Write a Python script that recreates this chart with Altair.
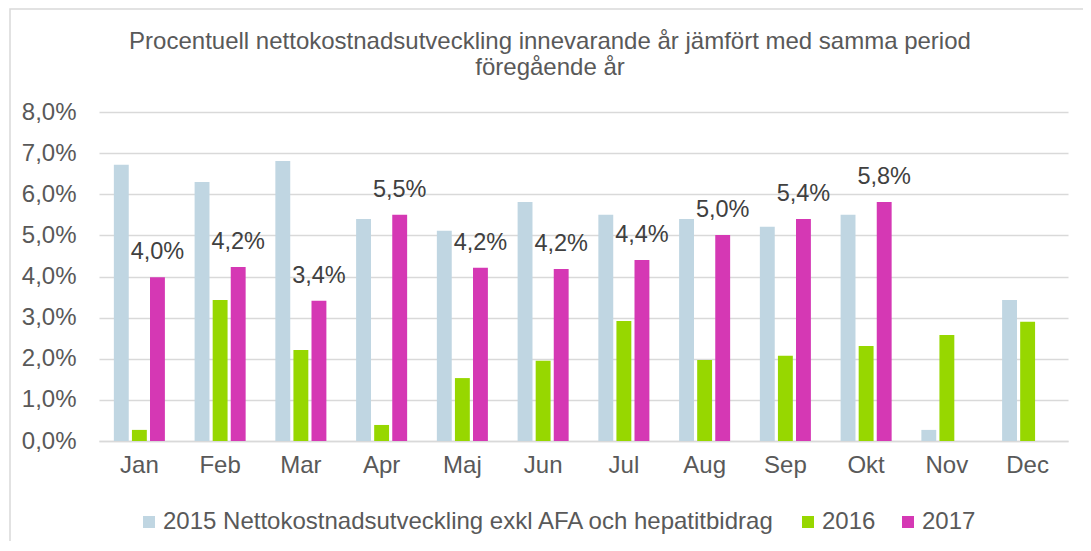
import altair as alt
import pandas as pd

months = ["Jan", "Feb", "Mar", "Apr", "Maj", "Jun", "Jul", "Aug", "Sep", "Okt", "Nov", "Dec"]
s2015 = [6.72, 6.30, 6.81, 5.40, 5.11, 5.81, 5.50, 5.40, 5.21, 5.50, 0.27, 3.43]
s2016 = [0.27, 3.43, 2.21, 0.39, 1.53, 1.95, 2.92, 1.97, 2.07, 2.31, 2.58, 2.90]
s2017 = [3.98, 4.23, 3.41, 5.50, 4.21, 4.18, 4.40, 5.01, 5.40, 5.81, None, None]
series_names = ["2015 Nettokostnadsutveckling exkl AFA och hepatitbidrag", "2016", "2017"]
colors = ["#C0D6E2", "#97D700", "#D538B4"]
y_ticks = [0, 1, 2, 3, 4, 5, 6, 7, 8]
title_lines = ["Procentuell nettokostnadsutveckling innevarande år jämfört med samma period",
               "föregående år"]

rows = []
for i, m in enumerate(months):
    for name, vals in zip(series_names, [s2015, s2016, s2017]):
        if vals[i] is not None:
            rows.append({"month": m, "series": name, "value": vals[i]})
df = pd.DataFrame(rows)

FONT = "Liberation Sans"
GRAY = "#595959"

x_enc = alt.X("month:N", sort=months, title=None,
              scale=alt.Scale(paddingInner=0.368, paddingOuter=0.184),
              axis=alt.Axis(labelFontSize=24, labelColor=GRAY, labelFont=FONT,
                            ticks=False, domainColor="#D9D9D9", domainWidth=1.5,
                            labelPadding=12, labelAngle=0, grid=False))
xoff_enc = alt.XOffset("series:N", sort=series_names,
                       scale=alt.Scale(paddingInner=0.176, paddingOuter=0))
y_enc = alt.Y("value:Q", title=None,
              scale=alt.Scale(domain=[0, 8], nice=False),
              axis=alt.Axis(values=y_ticks, labelFontSize=24, labelColor=GRAY, labelFont=FONT,
                            labelExpr="replace(format(datum.value, '.1f'), '.', ',') + '%'",
                            ticks=False, domain=False, gridColor="#D9D9D9", gridWidth=1.5,
                            labelPadding=23))

bars = alt.Chart(df).mark_bar().encode(
    x=x_enc,
    xOffset=xoff_enc,
    y=y_enc,
    color=alt.Color("series:N", sort=series_names,
                    scale=alt.Scale(domain=series_names, range=colors),
                    legend=alt.Legend(title=None, orient="none", direction="horizontal",
                                      legendX=38, legendY=398, labelLimit=1000, padding=0,
                                      labelFontSize=24, labelColor=GRAY, labelFont=FONT,
                                      symbolType="square", symbolSize=144, symbolStrokeWidth=0,
                                      labelOffset=2, columnPadding=20)),
)

labels = alt.Chart(df).transform_filter(
    alt.datum.series == "2017"
).transform_calculate(
    lab="replace(format(datum.value, '.1f'), '.', ',') + '%'"
).mark_text(baseline="bottom", dy=-13, fontSize=23.5, font=FONT, color="#404040").encode(
    x=alt.X("month:N", sort=months),
    xOffset=alt.XOffset("series:N", sort=series_names),
    y=alt.Y("value:Q"),
    text="lab:N",
)

border = alt.Chart(pd.DataFrame({"a": [0]})).mark_rect(
    fill=None, stroke="#D9D9D9", strokeWidth=1.5
).encode(
    x=alt.value(-89), x2=alt.value(1000), y=alt.value(-103), y2=alt.value(460)
)

title1 = alt.Chart(pd.DataFrame({"t": [title_lines[0]]})).mark_text(
    fontSize=24, font=FONT, color=GRAY, baseline="middle", align="center"
).encode(x=alt.value(451), y=alt.value(-70), text="t:N")
title2 = alt.Chart(pd.DataFrame({"t": [title_lines[1]]})).mark_text(
    fontSize=24, font=FONT, color=GRAY, baseline="middle", align="center"
).encode(x=alt.value(451), y=alt.value(-44), text="t:N")

chart = alt.layer(border, bars, labels, title1, title2).properties(
    width=969, height=329,
    autosize=alt.AutoSizeParams(type="none"),
    padding={"left": 91, "top": 104, "right": 15, "bottom": 100},
    view=alt.ViewBackground(stroke="transparent", strokeWidth=0),
).configure_view(
    stroke="transparent", strokeWidth=0
).configure_axisY(domain=False).configure_axisX(grid=False).configure(background="white")

chart.save("out.html", embed_options={"renderer": "svg", "actions": False})
